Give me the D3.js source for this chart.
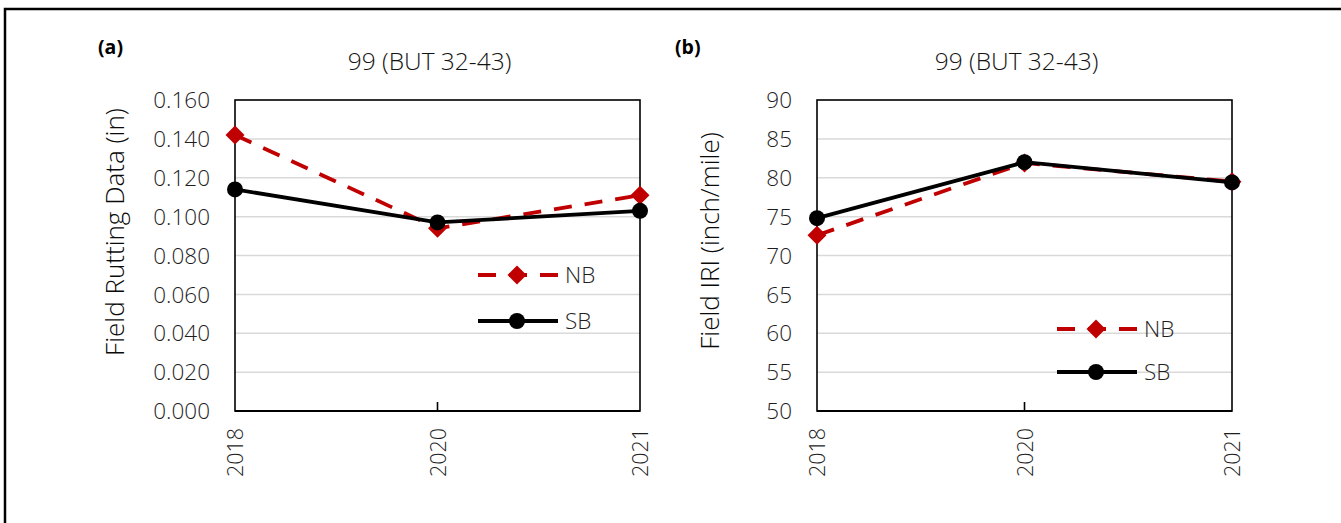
<!DOCTYPE html>
<html>
<head>
<meta charset="utf-8">
<script src="https://cdn.jsdelivr.net/npm/d3@7"></script>
<style>
  html, body { margin: 0; padding: 0; background: #fff; }
  svg { display: block; }
  text { font-family: "Open Sans", "Noto Sans", sans-serif; }
</style>
</head>
<body>
<svg id="fig" width="1341" height="523"></svg>
<script>
// Survey years (categorical x axis)
const years = ["2018", "2020", "2021"];

// Panel (a): field rutting, inches
const rutNB = [0.142, 0.094, 0.111];
const rutSB = [0.114, 0.097, 0.103];
const rutTicks = [0, 0.02, 0.04, 0.06, 0.08, 0.10, 0.12, 0.14, 0.16];

// Panel (b): field IRI, inch/mile
const iriNB = [72.6, 81.9, 79.5];
const iriSB = [74.8, 82.0, 79.4];
const iriTicks = [50, 55, 60, 65, 70, 75, 80, 85, 90];

const seriesNames = ["NB", "SB"];
const sectionTitle = "99 (BUT 32-43)";

const RED = "#c00000";
const BLACK = "#000000";
const TEXT = "#1e1e1e";
const LIGHT = 300;

const svg = d3.select("#fig");

// Outer frame (open on the right and bottom edges)
svg.append("path")
  .attr("d", "M5,523 V9 H1341")
  .attr("fill", "none")
  .attr("stroke", "#000")
  .attr("stroke-width", 2.5);

function drawPanel(opt) {
  const { left, right, top, bottom } = opt.box;
  const g = svg.append("g");

  const x = d3.scalePoint().domain(years).range([left, right]).padding(0);
  const y = d3.scaleLinear().domain([opt.ticks[0], opt.ticks[opt.ticks.length - 1]]).range([bottom, top]);

  // Horizontal gridlines
  g.append("g").selectAll("line")
    .data(opt.ticks.slice(1, -1))
    .join("line")
    .attr("x1", left).attr("x2", right)
    .attr("y1", d => y(d)).attr("y2", d => y(d))
    .attr("stroke", "#d9d9d9").attr("stroke-width", 1.5);

  // Y axis labels
  const yAxis = d3.axisLeft(y).tickValues(opt.ticks).tickFormat(opt.fmt).tickSize(0).tickPadding(25);
  const ya = g.append("g").attr("transform", `translate(${left},0)`).call(yAxis);
  ya.select(".domain").remove();
  ya.selectAll("text")
    .attr("font-size", 22.5).attr("fill", TEXT)
    .attr("font-weight", LIGHT)
    .attr("font-family", "'Open Sans', sans-serif")
    .attr("dy", "0.34em");

  // X axis labels, rotated
  const xAxis = d3.axisBottom(x).tickSize(0).tickPadding(0);
  const xa = g.append("g").attr("transform", `translate(0,${bottom})`).call(xAxis);
  xa.select(".domain").remove();
  xa.selectAll("text")
    .attr("font-size", 21.5).attr("fill", TEXT)
    .attr("font-weight", LIGHT)
    .attr("font-family", "'Open Sans', sans-serif")
    .attr("text-anchor", "end")
    .attr("transform", "rotate(-90)")
    .attr("x", -17).attr("y", 0).attr("dy", "0.36em");

  // Plot frame
  g.append("rect")
    .attr("x", left).attr("y", top)
    .attr("width", right - left).attr("height", bottom - top)
    .attr("fill", "none").attr("stroke", "#000").attr("stroke-width", 1.6);
  g.append("line")
    .attr("x1", left).attr("x2", right).attr("y1", bottom).attr("y2", bottom)
    .attr("stroke", "#000").attr("stroke-width", 2.2);
  // Inner tick marks on the category axis
  g.append("g").selectAll("line")
    .data(years.slice(1, -1))
    .join("line")
    .attr("x1", d => x(d)).attr("x2", d => x(d))
    .attr("y1", bottom).attr("y2", bottom - 9)
    .attr("stroke", "#000").attr("stroke-width", 1.6);

  const line = d3.line().x((d, i) => x(years[i])).y(d => y(d));

  // NB series (dashed red with diamonds)
  g.append("path")
    .datum(opt.nb)
    .attr("d", line)
    .attr("fill", "none").attr("stroke", RED)
    .attr("stroke-width", 3.8).attr("stroke-dasharray", "18,13");
  const diamond = d3.symbol().type(d3.symbolDiamond2).size(230);
  g.append("g").selectAll("path")
    .data(opt.nb)
    .join("path")
    .attr("d", diamond)
    .attr("transform", (d, i) => `translate(${x(years[i])},${y(d)})`)
    .attr("fill", RED);

  // SB series (solid black with circles)
  g.append("path")
    .datum(opt.sb)
    .attr("d", line)
    .attr("fill", "none").attr("stroke", BLACK)
    .attr("stroke-width", 3.8);
  g.append("g").selectAll("circle")
    .data(opt.sb)
    .join("circle")
    .attr("cx", (d, i) => x(years[i])).attr("cy", d => y(d))
    .attr("r", 8).attr("fill", BLACK);

  // Titles
  g.append("text")
    .attr("x", (left + right) / 2 - 8).attr("y", 70)
    .attr("text-anchor", "middle")
    .attr("font-size", 24.5).attr("fill", "#141414")
    .attr("font-weight", LIGHT)
    .text(sectionTitle);
  g.append("text")
    .attr("transform", `translate(${opt.yTitleX},${opt.yTitleY}) rotate(-90)`)
    .attr("text-anchor", "middle")
    .attr("dy", "0.35em")
    .attr("font-size", opt.yTitleSize).attr("fill", "#0a0a0a")
    .attr("font-weight", LIGHT)
    .text(opt.yTitle);
  g.append("text")
    .attr("x", opt.tagX).attr("y", 54)
    .attr("font-size", 19.5).attr("font-weight", "bold")
    .attr("font-family", "'Liberation Sans', Arial, sans-serif")
    .attr("fill", "#000")
    .text(opt.tag);

  // Legend
  const lg = g.append("g");
  const lx0 = opt.legend.x, lx1 = opt.legend.x + 80, lmid = opt.legend.x + 39;
  const rows = [
    { name: seriesNames[0], y: opt.legend.y[0], nb: true },
    { name: seriesNames[1], y: opt.legend.y[1], nb: false }
  ];
  rows.forEach(r => {
    lg.append("line")
      .attr("x1", lx0).attr("x2", lx1).attr("y1", r.y).attr("y2", r.y)
      .attr("stroke", r.nb ? RED : BLACK).attr("stroke-width", 3.8)
      .attr("stroke-dasharray", r.nb ? "18,13" : null);
    if (r.nb) {
      lg.append("path").attr("d", diamond)
        .attr("transform", `translate(${lmid},${r.y})`).attr("fill", RED);
    } else {
      lg.append("circle").attr("cx", lmid).attr("cy", r.y).attr("r", 8).attr("fill", BLACK);
    }
    lg.append("text")
      .attr("x", lx1 + 7).attr("y", r.y).attr("dy", "0.35em")
      .attr("font-size", 22.5).attr("fill", TEXT)
      .attr("font-weight", LIGHT)
      .text(r.name);
  });
}

drawPanel({
  box: { left: 235, right: 640, top: 100, bottom: 411 },
  ticks: rutTicks,
  fmt: d3.format(".3f"),
  nb: rutNB, sb: rutSB,
  yTitle: "Field Rutting Data (in)",
  yTitleX: 115, yTitleY: 232, yTitleSize: 26,
  tag: "(a)", tagX: 98,
  legend: { x: 478, y: [275, 321] }
});

drawPanel({
  box: { left: 817, right: 1232, top: 100, bottom: 411 },
  ticks: iriTicks,
  fmt: d3.format("d"),
  nb: iriNB, sb: iriSB,
  yTitle: "Field IRI (inch/mile)",
  yTitleX: 710, yTitleY: 241, yTitleSize: 26,
  tag: "(b)", tagX: 675,
  legend: { x: 1057, y: [329, 372] }
});
</script>
</body>
</html>
